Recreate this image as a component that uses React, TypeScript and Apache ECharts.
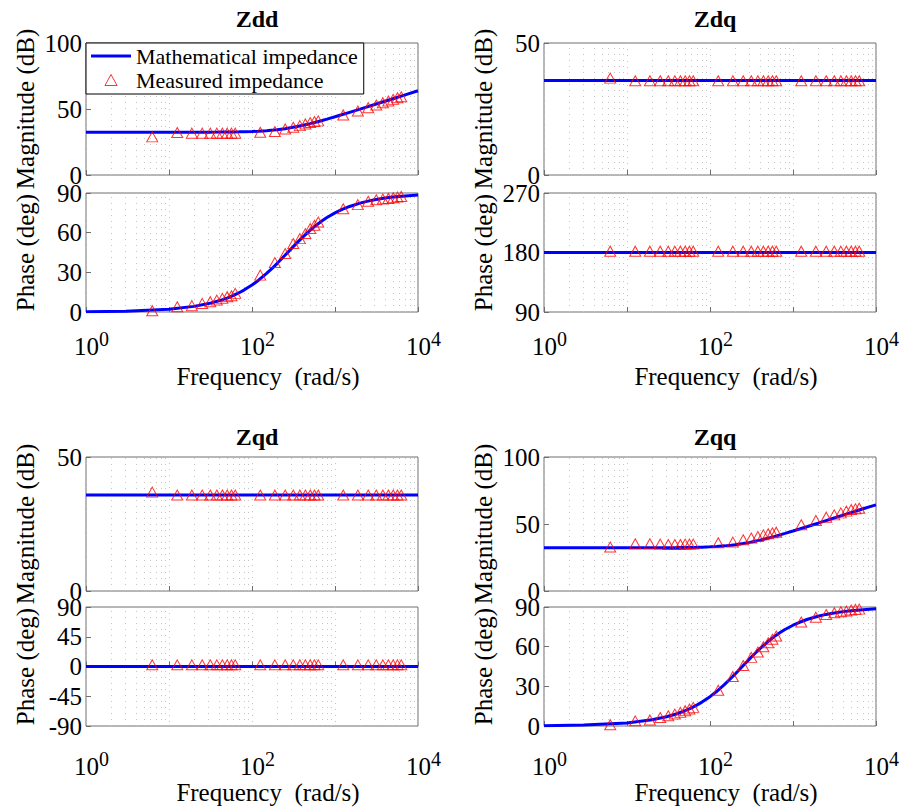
import React, { useEffect, useRef } from "react";
import * as echarts from "echarts";

// Frequencies (rad/s) of the measured points
const MEAS_FREQ = [
  6.28, 12.57, 18.85, 25.13, 31.42, 37.7, 43.98, 50.27, 56.55, 62.83,
  125.7, 188.5, 251.3, 314.2, 377.0, 439.8, 502.7, 565.5, 628.3,
  1257, 1885, 2513, 3142, 3770, 4398, 5027, 5655, 6283,
];

// Frequencies (rad/s) where the model curves are sampled
const CURVE_FREQ = [
  1, 3, 10, 20, 30, 40, 50, 60, 70, 80, 100, 120, 150, 180, 200, 250, 300,
  350, 400, 500, 600, 700, 800, 1000, 1200, 1500, 2000, 2500, 3000, 4000, 5000, 7000, 10000,
];
const FLAT_FREQ = [1, 10000];

// Minor log grid positions
const MINOR_GRID = [
  2, 3, 4, 5, 6, 7, 8, 9,
  20, 30, 40, 50, 60, 70, 80, 90,
  200, 300, 400, 500, 600, 700, 800, 900,
  2000, 3000, 4000, 5000, 6000, 7000, 8000, 9000,
];

// Zdd
const ZDD_MAG_CURVE = [
  32.4, 32.4, 32.41, 32.42, 32.45, 32.5, 32.55, 32.61, 32.68, 32.77, 32.96, 33.19, 33.58, 34.01, 34.31, 35.11, 35.91,
  36.7, 37.47, 38.89, 40.16, 41.3, 42.33, 44.11, 45.6, 47.47, 49.9, 51.81, 53.38, 55.87, 57.8, 60.71, 63.81,
];
const ZDD_PHASE_CURVE = [
  0.2, 0.64, 2.13, 4.25, 6.36, 8.46, 10.53, 12.57, 14.59, 16.56, 20.39, 24.04, 29.15, 33.79, 36.63, 42.9, 48.1,
  52.45, 56.08, 61.72, 65.85, 68.98, 71.42, 74.94, 77.36, 79.83, 82.34, 83.86, 84.88, 86.15, 86.92, 87.8, 88.46,
];
const ZDD_MAG_MEAS = [
  28.9, 32.2, 31.7, 31.7, 31.7, 31.7, 31.7, 31.7, 31.7, 31.7,
  32.4, 32.9, 34.9, 36.2, 37.4, 38.7, 39.7, 40.5, 41.0,
  45.5, 48.5, 51.0, 53.0, 54.8, 56.0, 57.3, 58.5, 59.3,
];
const ZDD_PHASE_MEAS = [
  1.0, 4.0, 4.8, 6.5, 7.8, 9.0, 10.3, 11.6, 12.3, 14.1,
  27.9, 37.4, 44.2, 51.8, 55.5, 59.3, 63.1, 65.6, 68.1,
  78.1, 81.2, 83.7, 84.9, 85.4, 85.9, 86.4, 86.9, 87.4,
];

// Zdq
const ZDQ_MAG_CURVE = [35.8, 35.8];
const ZDQ_PHASE_CURVE = [180, 180];
const ZDQ_MAG_MEAS = [
  36.7, 35.7, 35.7, 35.7, 35.7, 35.7, 35.7, 35.7, 35.7, 35.7,
  35.7, 35.7, 35.7, 35.7, 35.7, 35.7, 35.7, 35.7, 35.7,
  35.7, 35.7, 35.7, 35.7, 35.7, 35.7, 35.7, 35.7, 35.7,
];
const ZDQ_PHASE_MEAS = [
  182, 182, 182, 182, 182, 182, 182, 182, 182, 182,
  182, 182, 182, 182, 182, 182, 182, 182, 182,
  182, 182, 182, 182, 182, 182, 182, 182, 182,
];

// Zqd
const ZQD_MAG_CURVE = [35.8, 35.8];
const ZQD_PHASE_CURVE = [0, 0];
const ZQD_MAG_MEAS = [
  36.9, 35.8, 35.8, 35.8, 35.8, 35.8, 35.8, 35.8, 35.8, 35.8,
  35.8, 35.8, 35.8, 35.8, 35.8, 35.8, 35.8, 35.8, 35.8,
  35.8, 35.8, 35.8, 35.8, 35.8, 35.8, 35.8, 35.8, 35.8,
];
const ZQD_PHASE_MEAS = [
  2.5, 2.5, 2.5, 2.5, 2.5, 2.5, 2.5, 2.5, 2.5, 2.5,
  2.5, 2.5, 2.5, 2.5, 2.5, 2.5, 2.5, 2.5, 2.5,
  2.5, 2.5, 2.5, 2.5, 2.5, 2.5, 2.5, 2.5, 2.5,
];

// Zqq
const ZQQ_MAG_CURVE = [
  32.3, 32.3, 32.31, 32.33, 32.36, 32.41, 32.48, 32.55, 32.64, 32.74, 32.97, 33.23, 33.68, 34.18, 34.52, 35.4, 36.28,
  37.13, 37.94, 39.43, 40.75, 41.92, 42.97, 44.77, 46.28, 48.15, 50.6, 52.52, 54.09, 56.58, 58.51, 61.42, 64.3,
];
const ZQQ_PHASE_CURVE = [
  0.23, 0.7, 2.34, 4.67, 6.98, 9.27, 11.53, 13.76, 15.95, 18.08, 22.2, 26.09, 31.48, 36.3, 39.2, 45.57, 50.76,
  55.0, 58.51, 63.9, 67.79, 70.71, 73.0, 76.23, 78.46, 80.73, 83.02, 84.4, 85.33, 86.5, 87.19, 88.0, 88.6,
];
const ZQQ_MAG_MEAS = [
  32.8, 35.2, 35.2, 35.0, 34.7, 34.7, 34.7, 35.0, 35.0, 35.0,
  36.0, 36.5, 38.2, 39.5, 40.7, 41.9, 42.7, 43.4, 43.9,
  49.4, 52.6, 55.1, 56.8, 58.3, 59.6, 60.8, 61.3, 61.8,
];
const ZQQ_PHASE_MEAS = [
  1.0, 3.9, 4.6, 6.4, 7.7, 9.0, 10.3, 11.6, 12.9, 14.1,
  27.0, 37.5, 45.8, 51.9, 56.0, 59.9, 63.0, 65.6, 68.1,
  78.7, 82.3, 84.3, 85.6, 86.4, 86.9, 87.7, 88.2, 88.4,
];

const LINE_NAME = "Mathematical impedance";
const MEAS_NAME = "Measured impedance";

const FONT = "Liberation Serif";
const BOX = "#6e6e6e";
const GRID_COLOR = "#c4c4c4";

type Plot = {
  left: number;
  top: number;
  height: number;
  phase: boolean;
  yMin: number;
  yMax: number;
  yInterval: number;
  curveFreq: number[];
  curve: number[];
  meas: number[];
  labelMargin?: number;
  nameGap?: number;
};

const PLOTS: Plot[] = [
  { left: 86, top: 43, height: 132, phase: false, yMin: 0, yMax: 100, yInterval: 50, curveFreq: CURVE_FREQ, curve: ZDD_MAG_CURVE, meas: ZDD_MAG_MEAS },
  { left: 86, top: 193, height: 119, phase: true, yMin: 0, yMax: 90, yInterval: 30, curveFreq: CURVE_FREQ, curve: ZDD_PHASE_CURVE, meas: ZDD_PHASE_MEAS, labelMargin: 17, nameGap: 52 },
  { left: 544, top: 43, height: 132, phase: false, yMin: 0, yMax: 50, yInterval: 50, curveFreq: FLAT_FREQ, curve: ZDQ_MAG_CURVE, meas: ZDQ_MAG_MEAS },
  { left: 544, top: 193, height: 119, phase: true, yMin: 90, yMax: 270, yInterval: 90, curveFreq: FLAT_FREQ, curve: ZDQ_PHASE_CURVE, meas: ZDQ_PHASE_MEAS, labelMargin: 17, nameGap: 52 },
  { left: 86, top: 457, height: 134, phase: false, yMin: 0, yMax: 50, yInterval: 50, curveFreq: FLAT_FREQ, curve: ZQD_MAG_CURVE, meas: ZQD_MAG_MEAS },
  { left: 86, top: 607, height: 119, phase: true, yMin: -90, yMax: 90, yInterval: 45, curveFreq: FLAT_FREQ, curve: ZQD_PHASE_CURVE, meas: ZQD_PHASE_MEAS, labelMargin: 23, nameGap: 54 },
  { left: 544, top: 457, height: 134, phase: false, yMin: 0, yMax: 100, yInterval: 50, curveFreq: CURVE_FREQ, curve: ZQQ_MAG_CURVE, meas: ZQQ_MAG_MEAS },
  { left: 544, top: 607, height: 119, phase: true, yMin: 0, yMax: 90, yInterval: 30, curveFreq: CURVE_FREQ, curve: ZQQ_PHASE_CURVE, meas: ZQQ_PHASE_MEAS, labelMargin: 23, nameGap: 54 },
];

const TITLES = [
  { text: "Zdd", x: 257, y: 19 },
  { text: "Zdq", x: 715, y: 19 },
  { text: "Zqd", x: 257, y: 437 },
  { text: "Zqq", x: 715, y: 437 },
];

const PLOT_WIDTH = 332;

function decadeLabel(v: number): string {
  const e = Math.round(Math.log10(v));
  return e % 2 === 0 ? `{b|10}{s|${e}}` : "";
}

function buildOption() {
  const grid: any[] = [];
  const xAxis: any[] = [];
  const yAxis: any[] = [];
  const series: any[] = [];

  PLOTS.forEach((p, i) => {
    grid.push({
      left: p.left,
      top: p.top,
      width: PLOT_WIDTH,
      height: p.height,
      show: true,
      borderColor: BOX,
      borderWidth: 1,
      backgroundColor: "transparent",
    });

    xAxis.push({
      gridIndex: i,
      type: "log",
      logBase: 10,
      min: 1,
      max: 10000,
      axisLine: { show: false },
      axisTick: { show: true, inside: true, length: 5, lineStyle: { color: BOX } },
      axisLabel: p.phase
        ? {
            show: true,
            margin: p.labelMargin,
            formatter: decadeLabel,
            rich: {
              b: { fontSize: 25, fontFamily: FONT, color: "#000", padding: [0, 0, 0, 11] },
              s: { fontSize: 20, fontFamily: FONT, color: "#000", padding: [0, 0, 14, 0] },
            },
          }
        : { show: false },
      splitLine: { show: true, lineStyle: { color: GRID_COLOR, type: [1, 5], width: 1 } },
      name: p.phase ? "Frequency  (rad/s)" : "",
      nameLocation: "middle",
      nameGap: p.nameGap ?? 0,
      nameTextStyle: { fontSize: 25, fontFamily: FONT, color: "#000", padding: [0, 0, 0, 32] },
    });

    yAxis.push({
      gridIndex: i,
      type: "value",
      min: p.yMin,
      max: p.yMax,
      interval: p.yInterval,
      axisLine: { show: false },
      axisTick: { show: true, inside: true, length: 5, lineStyle: { color: BOX } },
      axisLabel: { fontSize: 25, fontFamily: FONT, color: "#000", margin: 4 },
      splitLine: { show: false },
      name: p.phase ? "Phase (deg)" : "Magnitude (dB)",
      nameLocation: "middle",
      nameGap: 48,
      nameTextStyle: { fontSize: 25, fontFamily: FONT, color: "#000" },
    });

    // dotted minor grid lines at 2..9 x 10^k
    series.push({
      type: "line",
      xAxisIndex: i,
      yAxisIndex: i,
      data: [],
      silent: true,
      z: 1,
      markLine: {
        silent: true,
        symbol: "none",
        z: 1,
        label: { show: false },
        lineStyle: { color: GRID_COLOR, type: [1, 5], width: 1 },
        data: MINOR_GRID.map((v) => ({ xAxis: v })),
      },
    });

    series.push({
      name: LINE_NAME,
      type: "line",
      xAxisIndex: i,
      yAxisIndex: i,
      symbol: "none",
      showSymbol: false,
      z: 3,
      lineStyle: { color: "#0000ff", width: 3 },
      itemStyle: { color: "#0000ff" },
      data: p.curveFreq.map((f, k) => [f, p.curve[k]]),
    });

    series.push({
      name: MEAS_NAME,
      type: "scatter",
      xAxisIndex: i,
      yAxisIndex: i,
      symbol: "triangle",
      symbolSize: [11, 10],
      z: 4,
      itemStyle: { color: "rgba(255,255,255,0)", borderColor: "#ff0000", borderWidth: 1 },
      data: MEAS_FREQ.map((f, k) => [f, p.meas[k]]),
    });
  });

  return {
    animation: false,
    backgroundColor: "#ffffff",
    textStyle: { fontFamily: FONT },
    grid,
    xAxis,
    yAxis,
    series,
    legend: {
      data: [
        {
          name: LINE_NAME,
          icon: "path://M0,0L40,0L40,3L0,3Z",
          itemStyle: { color: "#0000ff", borderWidth: 0 },
        },
        {
          name: MEAS_NAME,
          icon: "path://M5.5,0L11,10L0,10Z",
          itemStyle: { color: "rgba(255,255,255,0)", borderColor: "#ff0000", borderWidth: 1 },
        },
      ],
      orient: "vertical",
      left: 86,
      top: 43,
      itemWidth: 40,
      itemHeight: 11,
      itemGap: 2,
      padding: [2, 6, 3, 5],
      borderColor: "#000",
      borderWidth: 1,
      backgroundColor: "#ffffff",
      selectedMode: false,
      textStyle: { fontSize: 22, fontFamily: FONT, color: "#000" },
      z: 10,
    },
    graphic: TITLES.map((t) => ({
      type: "text",
      x: t.x,
      y: t.y,
      style: {
        text: t.text,
        fontFamily: FONT,
        fontSize: 24,
        fontWeight: "bold",
        fill: "#000",
        align: "center",
        verticalAlign: "middle",
      },
    })),
  };
}

export default function App() {
  const ref = useRef<HTMLDivElement>(null);
  useEffect(() => {
    if (!ref.current) return;
    const chart = echarts.init(ref.current, undefined, { renderer: "svg" });
    chart.setOption(buildOption() as any);
    return () => chart.dispose();
  }, []);
  return (
    <div
      ref={ref}
      style={{ position: "fixed", left: 0, top: 0, width: 902, height: 811, background: "#fff" }}
    />
  );
}
